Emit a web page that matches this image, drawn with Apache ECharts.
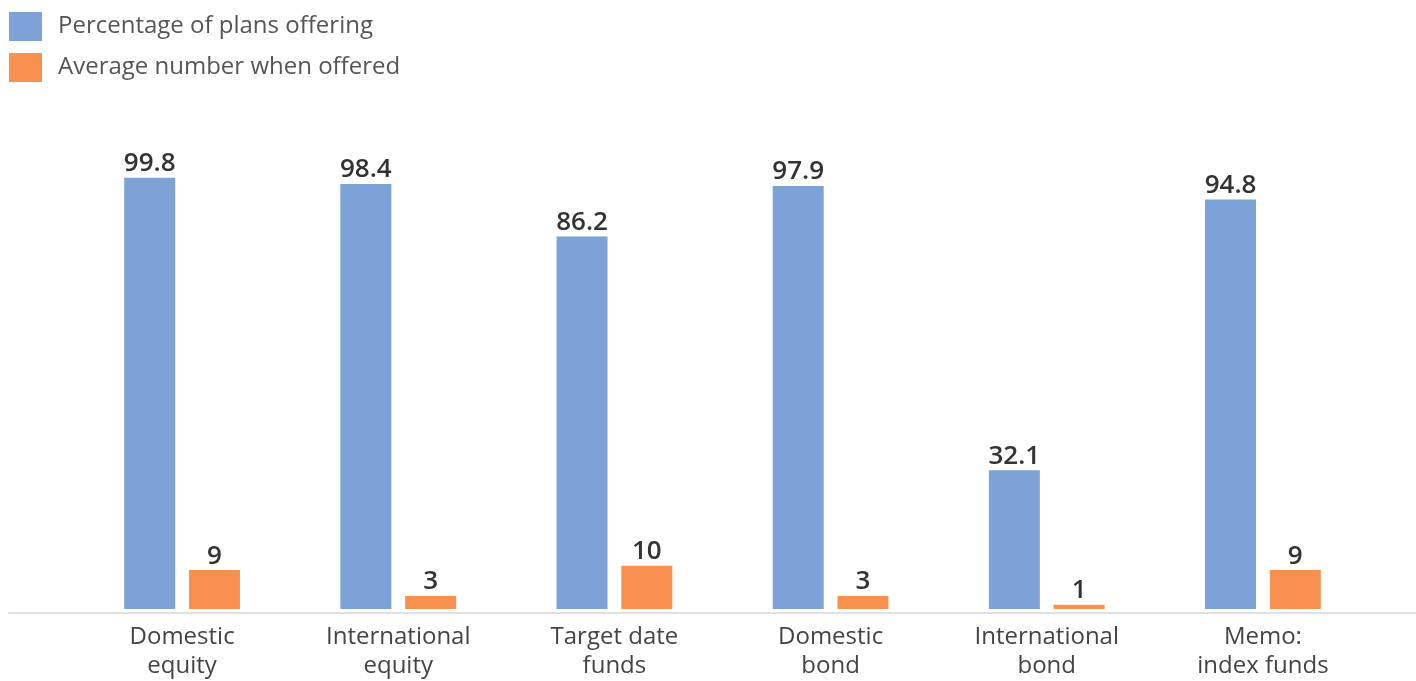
<!DOCTYPE html>
<html><head><meta charset="utf-8">
<script src="https://cdn.jsdelivr.net/npm/echarts@6/dist/echarts.min.js"></script>
<style>html,body{margin:0;padding:0;background:#fff}#c{width:1416px;height:681px}</style>
</head><body><div id="c"></div>
<script>
const categories = ["Domestic\nequity","International\nequity","Target date\nfunds","Domestic\nbond","International\nbond","Memo:\nindex funds"];
const seriesNames = ["Percentage of plans offering","Average number when offered"];
const pctOffering = [99.8, 98.4, 86.2, 97.9, 32.1, 94.8];
const avgNumber = [9, 3, 10, 3, 1, 9];

const font = "'Open Sans', Lato, sans-serif";
const chart = echarts.init(document.getElementById('c'));
chart.setOption({
  animation: false,
  color: ['#7DA2D6', '#F8914F'],
  legend: {
    orient: 'vertical', left: 4, top: 7, itemWidth: 33, itemHeight: 29, itemGap: 12,
    icon: 'rect',
    textStyle: { fontFamily: font, fontSize: 24, color: '#555', padding: [0,0,0,11] },
    data: seriesNames
  },
  grid: [
    { left: 74, right: 45, top: 177, bottom: 68 },
    { left: 9, right: 0, top: 177, bottom: 68 }
  ],
  xAxis: [
    { type: 'category', gridIndex: 0, data: categories,
      axisLine: { show: false }, axisTick: { show: false },
      axisLabel: { fontFamily: font, fontSize: 24, lineHeight: 29, color: '#444', margin: 14, interval: 0 } },
    { type: 'category', gridIndex: 1, data: [''],
      axisLine: { show: true, lineStyle: { color: '#e0e0e0', width: 2 } },
      axisTick: { show: false }, axisLabel: { show: false } }
  ],
  yAxis: [
    { type: 'value', gridIndex: 0, min: 0, max: 100, show: false, splitLine: { show: false } },
    { type: 'value', gridIndex: 1, min: 0, max: 100, show: false, splitLine: { show: false } }
  ],
  series: [
    { name: seriesNames[0], type: 'bar', data: pctOffering, barWidth: 51, barGap: '27%',
      label: { show: true, position: 'top', distance: 1, fontFamily: font, fontSize: 26, fontWeight: 600, color: '#333' } },
    { name: seriesNames[1], type: 'bar', data: avgNumber, barWidth: 51, barGap: '27%',
      label: { show: true, position: 'top', distance: 1, fontFamily: font, fontSize: 26, fontWeight: 600, color: '#333' } }
  ]
});
</script></body></html>
